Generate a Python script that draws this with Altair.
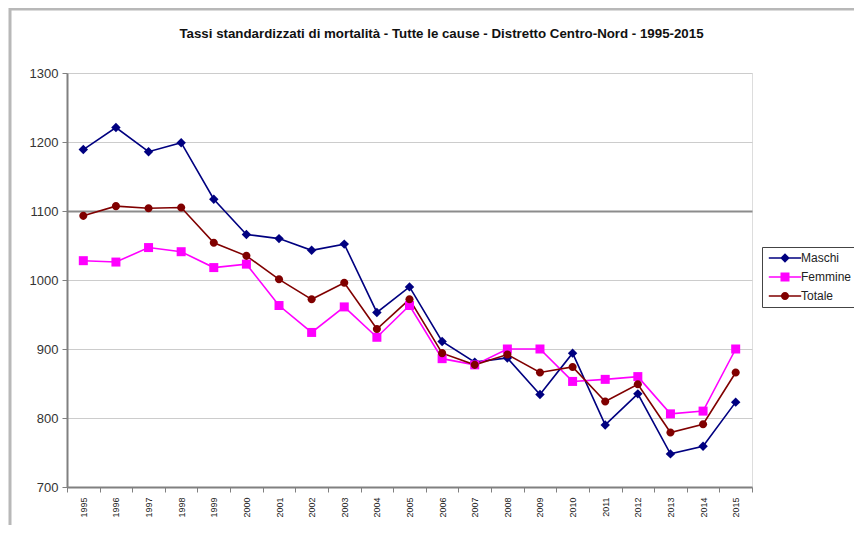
import altair as alt
import pandas as pd

anni = ["1995", "1996", "1997", "1998", "1999", "2000", "2001", "2002", "2003", "2004",
        "2005", "2006", "2007", "2008", "2009", "2010", "2011", "2012", "2013", "2014", "2015"]
maschi = [1189, 1221, 1186, 1199, 1117, 1066, 1060, 1043, 1052, 953,
          990, 911, 881, 887, 834, 894, 790, 835, 748, 759, 823]
femmine = [1028, 1026, 1047, 1041, 1018, 1023, 963, 924, 961, 917,
           963, 886, 877, 900, 900, 853, 856, 860, 806, 810, 900]
totale = [1093, 1107, 1104, 1105, 1054, 1035, 1001, 972, 996, 929,
          972, 894, 877, 892, 866, 874, 824, 849, 779, 791, 866]

serie = ["Maschi", "Femmine", "Totale"]
colori = ["#000080", "#FF00FF", "#800000"]
forme = [
    "M0,-1.05L1.05,0L0,1.05L-1.05,0Z",
    "M-1,-1L1,-1L1,1L-1,1Z",
    "M0.9,0A0.9,0.9,0,1,1,-0.9,0A0.9,0.9,0,1,1,0.9,0Z",
]
barra = "M-3.6,-0.17L3.6,-0.17L3.6,0.17L-3.6,0.17Z"
forme_legenda = [barra + f for f in forme]

rows = []
for nome, valori in zip(serie, [maschi, femmine, totale]):
    for a, v in zip(anni, valori):
        rows.append({"Anno": a, "Valore": v, "Serie": nome})
df = pd.DataFrame(rows)

# colour of each legend entry, chosen from the same lists
expr_colore = "'" + colori[-1] + "'"
for nome, col in reversed(list(zip(serie[:-1], colori[:-1]))):
    expr_colore = f"datum.value === '{nome}' ? '{col}' : ({expr_colore})"

x = alt.X("Anno:O", title=None, bandPosition=0.5,
          scale=alt.Scale(type="band", paddingInner=0, paddingOuter=0),
          axis=alt.Axis(labelAngle=-90, tickBand="extent", grid=False,
                        labelFontSize=9, labelFont="Liberation Sans", labelColor="#222",
                        tickSize=5, tickColor="#808080", domainColor="#808080",
                        domainWidth=2, labelPadding=5))
y = alt.Y("Valore:Q", title=None,
          scale=alt.Scale(domain=[700, 1300], nice=False, zero=False),
          axis=alt.Axis(values=[700, 800, 900, 1000, 1100, 1200, 1300], format="d",
                        labelFontSize=13, labelFont="Liberation Sans", labelColor="#333",
                        tickSize=5, tickColor="#808080", domainColor="#808080",
                        domainWidth=2, labelPadding=4,
                        gridColor=alt.condition("datum.value == 1100", alt.value("#8c8c8c"), alt.value("#cccccc")),
                        gridWidth=alt.condition("datum.value == 1100", alt.value(2), alt.value(1.2))))

color_scale = alt.Scale(domain=serie, range=colori)

legenda = alt.Legend(
    title=None, orient="none", legendX=695, legendY=174,
    strokeColor="#444", fillColor="white", padding=5,
    labelFont="Liberation Sans", labelFontSize=12, labelColor="#222",
    symbolSize=81, symbolOffset=12, labelOffset=10, rowPadding=7,
    symbolOpacity=1, symbolStrokeWidth=0,
    symbolFillColor=alt.ExprRef(expr=expr_colore),
)

linee = alt.Chart(df).mark_line(strokeWidth=1.6).encode(
    x=x, y=y,
    color=alt.Color("Serie:N", scale=color_scale, legend=None),
    order=alt.Order("Anno:O"),
)

punti = alt.Chart(df).mark_point(filled=True, size=81, opacity=1, strokeWidth=0).encode(
    x=x, y=y,
    color=alt.Color("Serie:N", scale=color_scale, legend=None),
    shape=alt.Shape("Serie:N", scale=alt.Scale(domain=serie, range=forme), legend=None),
)

voci = alt.Chart(df).mark_point(filled=True, size=81, opacity=0, strokeWidth=0).encode(
    x=x, y=y,
    fill=alt.Fill("Serie:N", scale=alt.Scale(domain=serie, range=colori), legend=legenda),
    shape=alt.Shape("Serie:N", scale=alt.Scale(domain=serie, range=forme_legenda), legend=legenda),
)

cornice_sx = alt.Chart(alt.Data(values=[{}])).mark_rule(color="#b8b8b8", strokeWidth=3).encode(
    x=alt.value(-57), y=alt.value(-66), y2=alt.value(480))
cornice_su = alt.Chart(alt.Data(values=[{}])).mark_rule(color="#b8b8b8", strokeWidth=3).encode(
    y=alt.value(-64), x=alt.value(-58), x2=alt.value(800))

chart = alt.layer(cornice_sx, cornice_su, linee, punti, voci).resolve_scale(
    shape="independent"
).properties(
    width=685, height=414,
    title=alt.TitleParams(
        "Tassi standardizzati di mortalità - Tutte le cause - Distretto Centro-Nord - 1995-2015",
        font="Liberation Sans", fontSize=13.3, fontWeight="bold", color="#111",
        anchor="middle", frame="group", dx=32, offset=-35),
    autosize=alt.AutoSizeParams(type="none"),
    padding={"left": 59, "top": 65, "right": 102, "bottom": 38},
).configure_view(stroke="#a0a0a0", strokeWidth=2).configure(background="white")

chart.save("out.html", embed_options={"renderer": "svg", "actions": False})
